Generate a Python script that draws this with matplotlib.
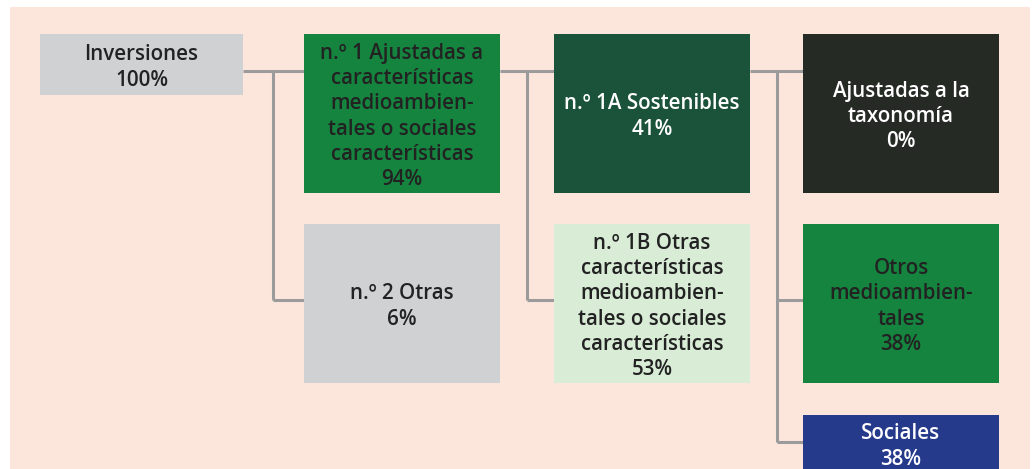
import matplotlib
matplotlib.use("Agg")
import matplotlib.pyplot as plt
from matplotlib.patches import Rectangle

# Data
labels = [
    "Inversiones\n100%",
    "n.º 1 Ajustadas a\ncaracterísticas\nmedioambien-\ntales o sociales\ncaracterísticas\n94%",
    "n.º 1A Sostenibles\n41%",
    "Ajustadas a la\ntaxonomía\n0%",
    "n.º 2 Otras\n6%",
    "n.º 1B Otras\ncaracterísticas\nmedioambien-\ntales o sociales\ncaracterísticas\n53%",
    "Otros\nmedioambien-\ntales\n38%",
    "Sociales\n38%",
]
values = [100, 94, 41, 0, 6, 53, 38, 38]
fill_colors = ["#d0d1d3", "#15843f", "#1b533a", "#262a25", "#d0d1d3", "#d8ecd6", "#15843f", "#263a8c"]
text_colors = ["#222222", "#222222", "#ffffff", "#ffffff", "#222222", "#222222", "#222222", "#ffffff"]

# layout (pixels): x0, y0, x1, y1, text center y
boxes = [
    (40, 34, 243, 95, 67.5),
    (304, 34, 500, 193, 116.5),
    (554, 34, 750, 193, 116.5),
    (803, 34, 999, 193, 116.5),
    (304, 224, 500, 383, 306.5),
    (554, 224, 750, 383, 306.5),
    (803, 224, 999, 383, 306.5),
    (803, 415, 999, 520, 446.5),
]

W, H = 1035, 469
fig = plt.figure(figsize=(W / 100, H / 100), dpi=100)
ax = fig.add_axes([0, 0, 1, 1])
ax.set_xlim(0, W)
ax.set_ylim(H, 0)
ax.axis("off")
fig.patch.set_facecolor("white")

ax.add_patch(Rectangle((10, 7), 1020, 480, facecolor="#fce6dc", edgecolor="none", zorder=0))

lc = "#9b9b9b"
lw = 2.2
def seg(xs, ys):
    ax.plot(xs, ys, color=lc, lw=lw, solid_capstyle="butt", zorder=1)

# connectors
seg([243, 304], [71, 71])
seg([273, 273], [71, 300])
seg([273, 304], [300, 300])
seg([500, 554], [71, 71])
seg([527, 527], [71, 300])
seg([527, 554], [300, 300])
seg([750, 803], [71, 71])
seg([777, 777], [71, 442])
seg([777, 803], [300, 300])
seg([777, 803], [442, 442])

for (x0, y0, x1, y1, ty), lab, fc, tc in zip(boxes, labels, fill_colors, text_colors):
    ax.add_patch(Rectangle((x0, y0), x1 - x0, y1 - y0, facecolor=fc, edgecolor="none", zorder=2))
    ax.text((x0 + x1) / 2, ty, lab, ha="center", va="center", color=tc,
            fontsize=14.8, family="Open Sans", weight="semibold", linespacing=1.27, zorder=3)

fig.savefig("out.png", dpi=100, facecolor="white")
